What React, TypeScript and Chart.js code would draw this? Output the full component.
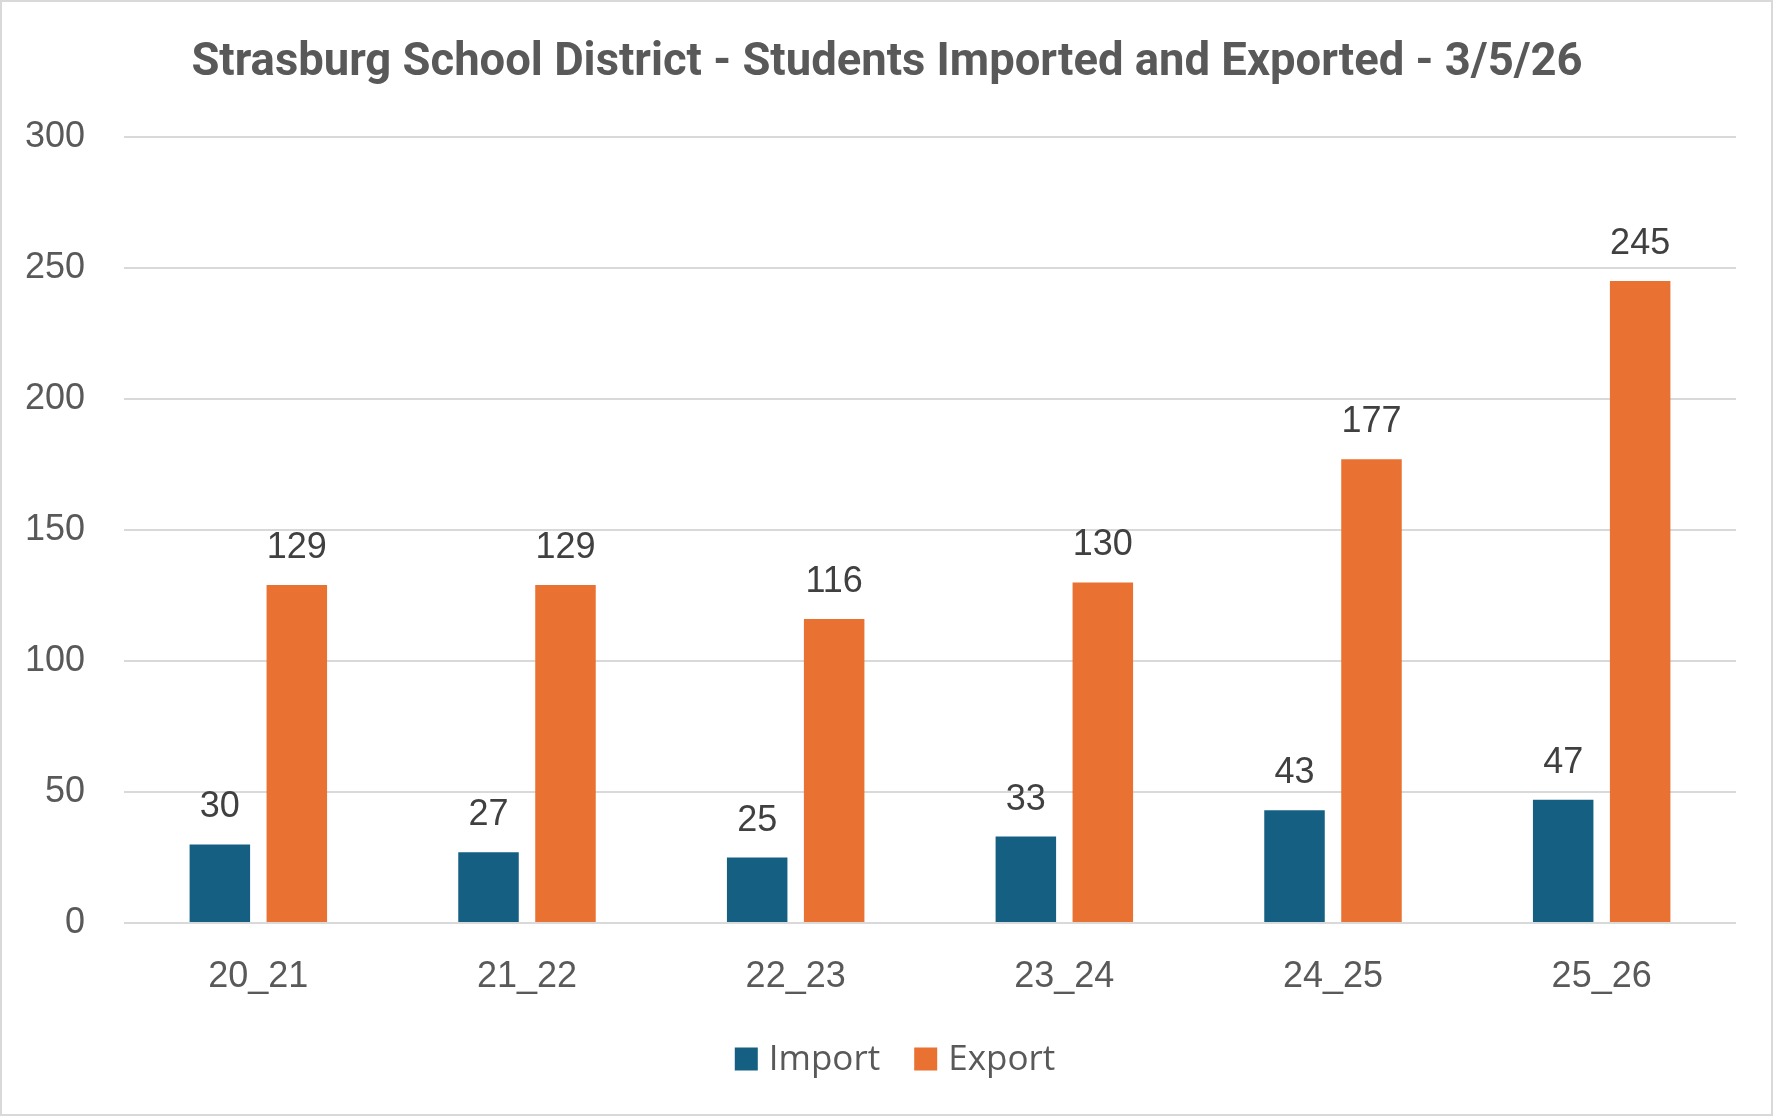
import React, { useEffect, useRef } from "react";
import { Chart, registerables } from "chart.js";

Chart.register(...registerables);

const categories = ["20_21", "21_22", "22_23", "23_24", "24_25", "25_26"];
const importValues = [30, 27, 25, 33, 43, 47];
const exportValues = [129, 129, 116, 130, 177, 245];
const yTicks = [0, 50, 100, 150, 200, 250, 300];
const seriesNames = ["Import", "Export"];
const seriesColors = ["#156082", "#E97132"];
const titleText = "Strasburg School District - Students Imported and Exported - 3/5/26";

const W = 1769;
const H = 1112;

const valueLabels = {
  id: "valueLabels",
  afterDatasetsDraw(chart: any) {
    const ctx = chart.ctx;
    ctx.save();
    ctx.font = "36px 'Liberation Sans', Arial, sans-serif";
    ctx.fillStyle = "#404040";
    ctx.textAlign = "center";
    ctx.textBaseline = "alphabetic";
    chart.data.datasets.forEach((ds: any, di: number) => {
      const meta = chart.getDatasetMeta(di);
      meta.data.forEach((el: any, i: number) => {
        ctx.fillText(String(ds.data[i]), el.x, el.y - 27);
      });
    });
    ctx.restore();
  },
};

const customTitle = {
  id: "customTitle",
  afterDraw(chart: any) {
    const ctx = chart.ctx;
    ctx.save();
    ctx.font = "bold 45.4px Roboto, 'Liberation Sans', sans-serif";
    ctx.fillStyle = "#595959";
    ctx.textAlign = "center";
    ctx.textBaseline = "middle";
    ctx.fillText(titleText, 885, 61.5);
    ctx.restore();
  },
};

const customLegend = {
  id: "customLegend",
  afterDraw(chart: any) {
    const ctx = chart.ctx;
    ctx.save();
    ctx.font = "35px 'Open Sans', sans-serif";
    ctx.textBaseline = "middle";
    ctx.textAlign = "left";
    const box = 23;
    const boxGap = 11;
    const itemGap = 34;
    const items = chart.data.datasets.map((ds: any) => ({
      text: ds.label,
      color: ds.backgroundColor,
      w: ctx.measureText(ds.label).width,
    }));
    const total =
      items.reduce((s: number, it: any) => s + box + boxGap + it.w, 0) + itemGap * (items.length - 1);
    let x = 893 - total / 2;
    const cy = 1057;
    items.forEach((it: any) => {
      ctx.fillStyle = it.color;
      ctx.fillRect(x, cy - box / 2, box, box);
      ctx.fillStyle = "#595959";
      ctx.fillText(it.text, x + box + boxGap, cy + 1);
      x += box + boxGap + it.w + itemGap;
    });
    ctx.restore();
  },
};

export default function App() {
  const ref = useRef<HTMLCanvasElement>(null);

  useEffect(() => {
    if (!ref.current) return;
    const chart = new Chart(ref.current, {
      type: "bar",
      data: {
        labels: categories,
        datasets: [
          {
            label: seriesNames[0],
            data: importValues,
            backgroundColor: seriesColors[0],
            categoryPercentage: 0.573,
            barPercentage: 0.786,
          },
          {
            label: seriesNames[1],
            data: exportValues,
            backgroundColor: seriesColors[1],
            categoryPercentage: 0.573,
            barPercentage: 0.786,
          },
        ],
      },
      options: {
        responsive: false,
        animation: false,
        devicePixelRatio: 1,
        layout: { padding: { left: 0, right: 35, top: 135, bottom: 106 } },
        plugins: {
          title: { display: false },
          legend: { display: false },
          tooltip: { enabled: false },
        },
        scales: {
          x: {
            grid: { display: false },
            border: { display: false },
            ticks: {
              color: "#595959",
              font: { family: "'Liberation Sans', Arial, sans-serif", size: 36 },
              maxRotation: 0,
              padding: 24,
            },
            afterFit(scale: any) {
              scale.height = 85;
            },
          },
          y: {
            min: 0,
            max: 300,
            border: { display: false },
            grid: { color: "#d9d9d9", lineWidth: 2, drawTicks: false },
            afterBuildTicks(scale: any) {
              scale.ticks = yTicks.map((v) => ({ value: v }));
            },
            ticks: {
              color: "#595959",
              font: { family: "'Liberation Sans', Arial, sans-serif", size: 36 },
              padding: 39,
            },
            afterFit(scale: any) {
              scale.width = 122;
            },
          },
        },
      },
      plugins: [valueLabels, customTitle, customLegend],
    });
    return () => chart.destroy();
  }, []);

  return (
    <div
      style={{
        position: "fixed",
        left: 0,
        top: 0,
        width: 1773,
        height: 1116,
        border: "2px solid #d9d9d9",
        boxSizing: "border-box",
        background: "#ffffff",
      }}
    >
      <canvas ref={ref} width={W} height={H} style={{ display: "block", width: W, height: H }} />
    </div>
  );
}
